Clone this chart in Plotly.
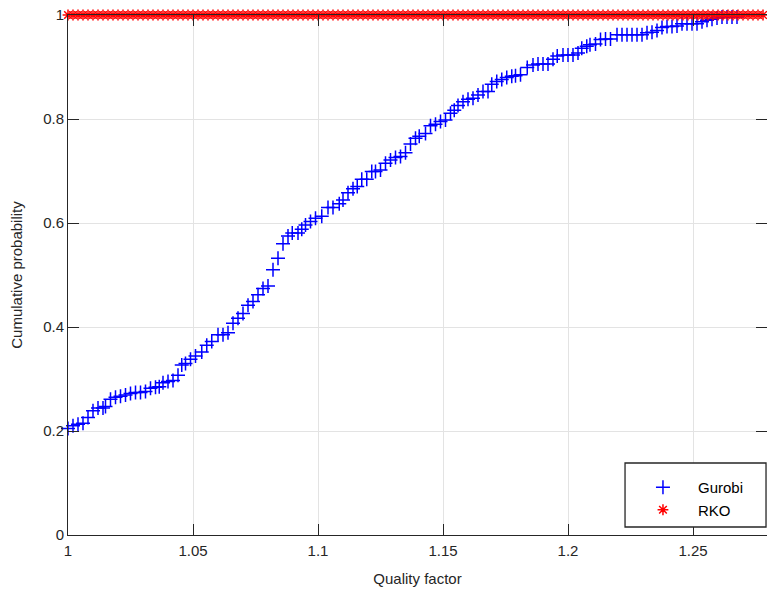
import plotly.graph_objects as go

# Gurobi: quality factor vs cumulative probability
gurobi_x = [
    1.000, 1.002, 1.004, 1.006, 1.008, 1.010, 1.012, 1.014, 1.015, 1.017,
    1.019, 1.021, 1.023, 1.025, 1.027, 1.029, 1.031, 1.033, 1.035, 1.0365,
    1.038, 1.040, 1.042, 1.044, 1.0455, 1.047, 1.049, 1.051, 1.0535, 1.0555,
    1.0575, 1.060, 1.062, 1.064, 1.066, 1.068, 1.070, 1.072, 1.074, 1.076,
    1.078, 1.080, 1.082, 1.084, 1.086, 1.088, 1.0897, 1.092, 1.0935, 1.095,
    1.097, 1.099, 1.1015, 1.104, 1.106, 1.1085, 1.110, 1.112, 1.114, 1.1157,
    1.1175, 1.1195, 1.1215, 1.123, 1.125, 1.127, 1.129, 1.131, 1.133, 1.135,
    1.137, 1.139, 1.1405, 1.143, 1.145, 1.147, 1.149, 1.151, 1.153, 1.1545,
    1.156, 1.158, 1.160, 1.162, 1.164, 1.166, 1.168, 1.1695, 1.1715, 1.1735,
    1.1755, 1.1775, 1.179, 1.181, 1.1837, 1.186, 1.188, 1.190, 1.192, 1.194,
    1.1957, 1.198, 1.200, 1.202, 1.204, 1.2055, 1.2075, 1.2088, 1.211, 1.213,
    1.215, 1.217, 1.2196, 1.2216, 1.2236, 1.2256, 1.2276, 1.2296, 1.2316, 1.2336,
    1.2356, 1.2376, 1.2396, 1.2416, 1.2436, 1.2456, 1.2476, 1.2496, 1.2516, 1.2536,
    1.2556, 1.2576, 1.2596, 1.2616, 1.2636, 1.2656, 1.2676,
]
gurobi_y = [
    0.205, 0.210, 0.213, 0.215, 0.226, 0.239, 0.244, 0.244, 0.247, 0.261,
    0.265, 0.267, 0.269, 0.272, 0.274, 0.274, 0.276, 0.282, 0.284, 0.285,
    0.293, 0.295, 0.297, 0.307, 0.327, 0.330, 0.338, 0.344, 0.352, 0.365,
    0.372, 0.385, 0.385, 0.389, 0.407, 0.417, 0.426, 0.442, 0.449, 0.462,
    0.474, 0.479, 0.510, 0.532, 0.560, 0.575, 0.581, 0.581, 0.588, 0.596,
    0.603, 0.609, 0.613, 0.630, 0.630, 0.637, 0.644, 0.658, 0.666, 0.670,
    0.684, 0.684, 0.699, 0.699, 0.702, 0.715, 0.721, 0.726, 0.728, 0.735,
    0.752, 0.763, 0.767, 0.772, 0.787, 0.790, 0.795, 0.798, 0.811, 0.817,
    0.826, 0.833, 0.838, 0.840, 0.846, 0.853, 0.853, 0.867, 0.872, 0.876,
    0.880, 0.882, 0.883, 0.885, 0.899, 0.904, 0.906, 0.906, 0.906, 0.915,
    0.921, 0.923, 0.923, 0.923, 0.927, 0.936, 0.940, 0.943, 0.944, 0.953,
    0.954, 0.954, 0.962, 0.962, 0.962, 0.962, 0.962, 0.962, 0.966, 0.967,
    0.970, 0.976, 0.978, 0.978, 0.979, 0.983, 0.983, 0.983, 0.983, 0.987,
    0.990, 0.992, 0.994, 0.996, 0.996, 0.996, 0.996,
]

# RKO: every instance reaches the best quality factor -> cumulative probability 1
rko_x = [
    1.000, 1.002, 1.004, 1.006, 1.008, 1.010, 1.012, 1.014, 1.016, 1.018,
    1.020, 1.022, 1.024, 1.026, 1.028, 1.030, 1.032, 1.034, 1.036, 1.038,
    1.040, 1.042, 1.044, 1.046, 1.048, 1.050, 1.052, 1.054, 1.056, 1.058,
    1.060, 1.062, 1.064, 1.066, 1.068, 1.070, 1.072, 1.074, 1.076, 1.078,
    1.080, 1.082, 1.084, 1.086, 1.088, 1.090, 1.092, 1.094, 1.096, 1.098,
    1.100, 1.102, 1.104, 1.106, 1.108, 1.110, 1.112, 1.114, 1.116, 1.118,
    1.120, 1.122, 1.124, 1.126, 1.128, 1.130, 1.132, 1.134, 1.136, 1.138,
    1.140, 1.142, 1.144, 1.146, 1.148, 1.150, 1.152, 1.154, 1.156, 1.158,
    1.160, 1.162, 1.164, 1.166, 1.168, 1.170, 1.172, 1.174, 1.176, 1.178,
    1.180, 1.182, 1.184, 1.186, 1.188, 1.190, 1.192, 1.194, 1.196, 1.198,
    1.200, 1.202, 1.204, 1.206, 1.208, 1.210, 1.212, 1.214, 1.216, 1.218,
    1.220, 1.222, 1.224, 1.226, 1.228, 1.230, 1.232, 1.234, 1.236, 1.238,
    1.240, 1.242, 1.244, 1.246, 1.248, 1.250, 1.252, 1.254, 1.256, 1.258,
    1.260, 1.262, 1.264, 1.266, 1.268, 1.270, 1.272, 1.274, 1.276, 1.278,
    1.280,
]
rko_y = [1.0] * len(rko_x)

x_ticks = [1, 1.05, 1.1, 1.15, 1.2, 1.25]
x_tick_labels = ["1", "1.05", "1.1", "1.15", "1.2", "1.25"]
y_ticks = [0, 0.2, 0.4, 0.6, 0.8, 1]
y_tick_labels = ["0", "0.2", "0.4", "0.6", "0.8", "1"]

FONT = "Liberation Sans, Arial, Helvetica, sans-serif"
AX = "#262626"

fig = go.Figure()
fig.add_trace(go.Scatter(
    x=gurobi_x, y=gurobi_y, mode="markers", name="Gurobi",
    marker=dict(symbol="cross-thin-open", size=10, color="#0000ff",
                line=dict(color="#0000ff", width=1.5)),
    cliponaxis=False,
))
fig.add_trace(go.Scatter(
    x=rko_x, y=rko_y, mode="markers", name="RKO",
    marker=dict(symbol="asterisk-open", size=9, color="#ff0000",
                line=dict(color="#ff0000", width=1.5)),
    cliponaxis=False,
))

axis_common = dict(
    showline=True, linecolor=AX, linewidth=1, mirror="ticks",
    ticks="inside", ticklen=11, tickcolor=AX, tickwidth=1,
    showgrid=True, gridcolor="#e3e3e3", gridwidth=1,
    zeroline=False, layer="above traces",
    tickfont=dict(family=FONT, size=15, color=AX),
)

fig.update_layout(
    width=767, height=592,
    margin=dict(l=68, r=0, t=15, b=57),
    paper_bgcolor="white", plot_bgcolor="white",
    font=dict(family=FONT, size=15, color=AX),
    xaxis=dict(range=[1, 1.2796], tickmode="array", tickvals=x_ticks,
               ticktext=x_tick_labels, ticklabelstandoff=2,
               title=dict(text="Quality factor", font=dict(family=FONT, size=15, color=AX), standoff=15),
               **axis_common),
    yaxis=dict(range=[0, 1], tickmode="array", tickvals=y_ticks,
               ticktext=y_tick_labels, ticklabelstandoff=0,
               title=dict(text="Cumulative probability", font=dict(family=FONT, size=15, color=AX), standoff=16),
               **axis_common),
    legend=dict(x=0.8011, y=0.1231, xanchor="left", yanchor="top",
                bgcolor="rgba(0,0,0,0)", borderwidth=0,
                font=dict(family=FONT, size=15, color="#000000"),
                itemwidth=60),
    shapes=[dict(type="rect", xref="paper", yref="paper",
                 x0=0.7969, x1=0.9986, y0=0.0154, y1=0.1385,
                 line=dict(color=AX, width=1.3), fillcolor="white",
                 layer="above")],
    showlegend=True,
)

fig.write_html("out.html", config={"displayModeBar": False},
               post_script="document.body.style.margin='0px';")
